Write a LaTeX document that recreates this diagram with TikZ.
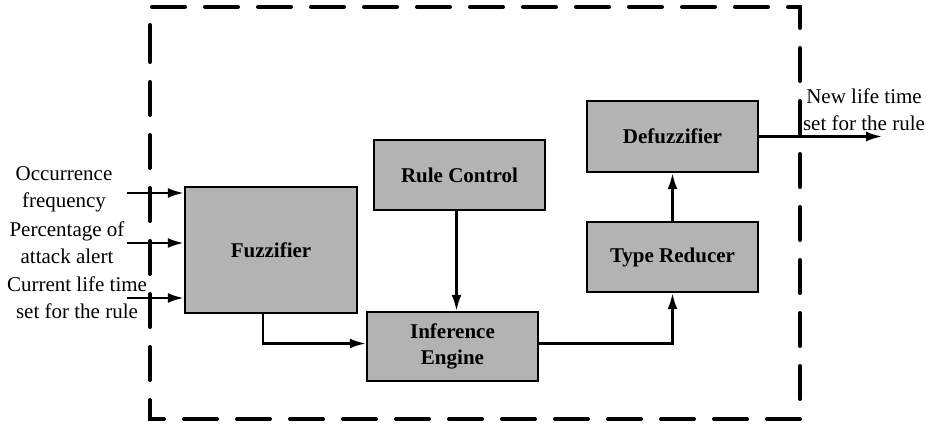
\documentclass[tikz,border=0pt]{standalone}
\usepackage{fontspec}
\setmainfont{Liberation Serif}
\usetikzlibrary{arrows.meta}
\definecolor{blockgray}{RGB}{179, 179, 179}

\tikzset{
  block/.style={draw=black, fill=blockgray, line width=2.4pt, minimum width=171pt,
                font=\fontsize{21}{26}\selectfont\bfseries, align=center, inner sep=0pt},
  label/.style={font=\fontsize{21}{27}\selectfont, align=center, inner sep=0pt},
  flow/.style={line width=2.4pt, -{Latex[length=16pt,width=10pt]}}
}

\begin{document}
\begin{tikzpicture}[x=1pt, y=-1pt]
            \useasboundingbox (0,0) rectangle (930,425);
            % System frame
            \draw[line width=4pt, line cap=round, dash pattern=on 33pt off 20pt, dash phase=0pt]
                  (150,58) -- (150,7) -- (800,7) -- (800,419) -- (150,419) -- cycle;
            % Blocks
            \node[block, minimum height=126pt, minimum width=172pt] (fuzz)    at (271.0, 250.0) {Fuzzifier};
            \node[block, minimum height=70pt]                       (rule)    at (459.5, 175.0) {Rule Control};
            \node[block, minimum height=69pt]                       (infer)   at (452.5, 346.5) {Inference\\Engine};
            \node[block, minimum height=70pt]                       (reducer) at (672.5, 257.0) {Type Reducer};
            \node[block, minimum height=71pt]                       (defuzz)  at (672.5, 136.5) {Defuzzifier};
            % Inputs
            \node[label] (occ)  at (64, 189) {Occurrence\\frequency};
            \node[label] (perc) at (67, 243) {Percentage of\\attack alert};
            \node[label] (cur)  at (77, 298) {Current life time\\set for the rule};
            \coordinate (in1) at (127, 193);
            \coordinate (in2) at (127, 243);
            \coordinate (in3) at (127, 298);
            \draw[flow] (in1) -- (in1 -| fuzz.west);
            \draw[flow] (in2) -- (in2 -| fuzz.west);
            \draw[flow] (in3) -- (in3 -| fuzz.west);
            % Output
            \node[label] (newlife) at (864, 110) {New life time\\set for the rule};
            \coordinate (out) at (882, 136.5);
            \draw[flow] (defuzz.east) -- (out);
            % Internal flow
            \draw[flow] ([xshift=-8pt]fuzz.south) |- ([yshift=3pt]infer.west);
            \draw[flow] ([xshift=-3pt]rule.south) -- ([xshift=-3pt]rule.south |- infer.north);
            \draw[flow] ([yshift=3pt]infer.east) -| (reducer.south);
            \draw[flow] (reducer.north) -- (defuzz.south);
        \end{tikzpicture}
\end{document}
